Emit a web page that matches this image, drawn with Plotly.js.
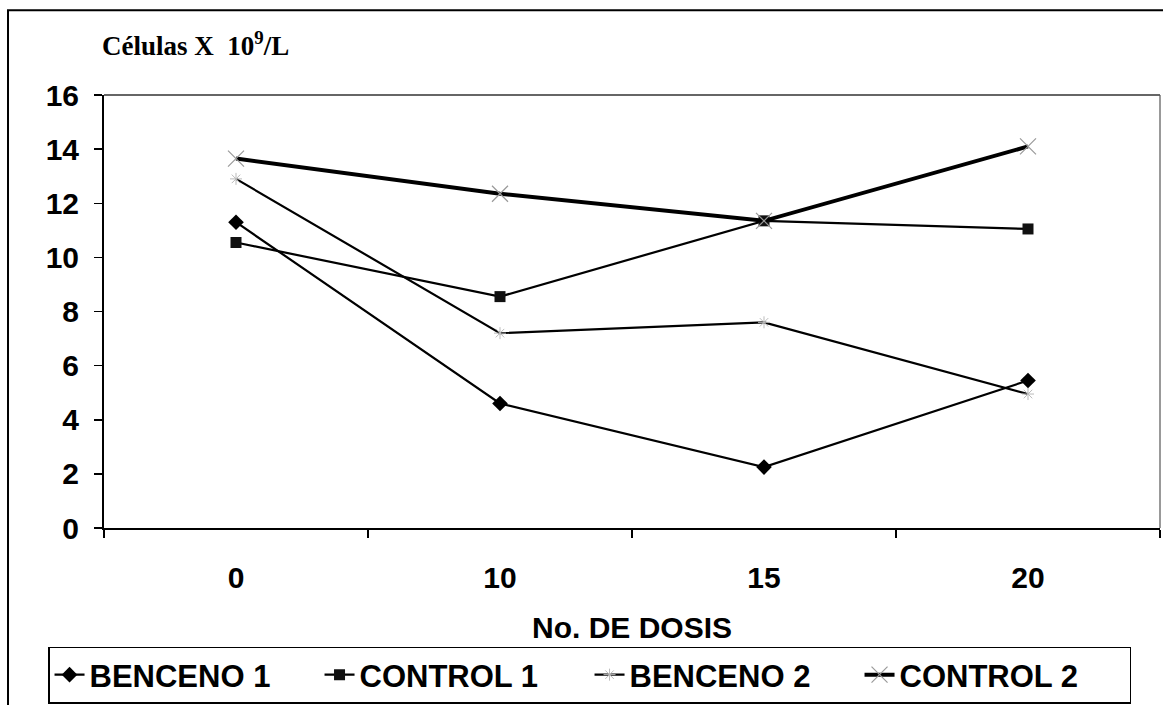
<!DOCTYPE html>
<html>
<head>
<meta charset="utf-8">
<script src="https://cdn.plot.ly/plotly-3.0.1.min.js"></script>
<style>html,body{margin:0;padding:0;background:#fff;}</style>
</head>
<body>
<div id="chart" style="width:1163px;height:705px;"></div>
<script>
const dosis = ["0", "10", "15", "20"];
const benceno1 = [11.3, 4.6, 2.25, 5.45];
const control1 = [10.55, 8.55, 11.35, 11.05];
const benceno2 = [12.9, 7.2, 7.6, 4.95];
const control2 = [13.65, 12.35, 11.35, 14.1];
const yTicks = [0, 2, 4, 6, 8, 10, 12, 14, 16];

const FONT = "Liberation Sans, Arial, sans-serif";

const traces = [
  {x: dosis, y: benceno1, name: "BENCENO 1", mode: "lines+markers", type: "scatter",
   line: {color: "#000", width: 2.2}, marker: {symbol: "diamond", size: 12, color: "#000"}},
  {x: dosis, y: control1, name: "CONTROL 1", mode: "lines+markers", type: "scatter",
   line: {color: "#000", width: 2.2}, marker: {symbol: "square", size: 11, color: "#111"}},
  {x: dosis, y: benceno2, name: "BENCENO 2", mode: "lines+markers", type: "scatter",
   line: {color: "#000", width: 2.2}, marker: {symbol: "asterisk-open", size: 10, color: "#bbb", line: {color: "#bbb", width: 1}}},
  {x: dosis, y: control2, name: "CONTROL 2", mode: "lines+markers", type: "scatter",
   line: {color: "#000", width: 4}, marker: {symbol: "x-thin-open", size: 16, color: "#999", line: {color: "#999", width: 1.2}}}
];

const layout = {
  width: 1163, height: 705,
  margin: {l: 104, r: 3, t: 95, b: 177, autoexpand: false},
  paper_bgcolor: "#fff", plot_bgcolor: "#fff",
  showlegend: true,
  font: {family: FONT, color: "#000"},
  xaxis: {
    type: "category", range: [-0.5, 3.5], tickson: "boundaries", automargin: false,
    ticks: "outside", ticklen: 8, tickwidth: 1.5, tickcolor: "#000",
    showline: true, linecolor: "#000", linewidth: 2, showgrid: false, zeroline: false,
    tickfont: {family: FONT, size: 30, color: "#000", weight: "bold"},
    ticklabelstandoff: 22,
    title: {text: "<b>No. DE DOSIS</b>", font: {family: FONT, size: 30, color: "#000"}, standoff: 24}
  },
  yaxis: {
    range: [0, 16], tickvals: yTicks, ticktext: yTicks.map(String), automargin: false,
    ticks: "outside", ticklen: 8, tickwidth: 1.5, tickcolor: "#000",
    showline: true, linecolor: "#000", linewidth: 2, showgrid: false, zeroline: false,
    tickfont: {family: FONT, size: 30, color: "#000", weight: "bold"},
    ticklabelstandoff: 9
  },
  legend: {
    orientation: "h", x: -0.053, y: -0.3395, xanchor: "left", yanchor: "middle",
    bordercolor: "#000", borderwidth: 1.5, bgcolor: "#fff",
    font: {family: FONT, size: 31, color: "#000", weight: "bold"},
    entrywidth: 225, entrywidthmode: "pixels", tracegroupgap: 0, itemwidth: 30
  },
  annotations: [{
    xref: "paper", yref: "paper", x: 0.087, y: 1.118, xanchor: "center", yanchor: "middle",
    text: "<b>Células X  10<sup>9</sup>/L</b>", showarrow: false,
    font: {family: "Liberation Serif, Times New Roman, serif", size: 27, color: "#000"}
  }],
  shapes: [
    {type: "line", xref: "paper", yref: "paper", x0: 0, x1: 1, y0: 1, y1: 1, line: {color: "#333", width: 1.5}},
    {type: "line", xref: "paper", yref: "paper", x0: 1, x1: 1, y0: 0, y1: 1, line: {color: "#555", width: 1.2}},
    {type: "rect", xref: "paper", yref: "paper", x0: -0.0909, x1: 1.05, y0: -0.5, y1: 1.196, line: {color: "#000", width: 2}, layer: "below"}
  ]
};

Plotly.newPlot("chart", traces, layout, {displayModeBar: false, staticPlot: true});
</script>
</body>
</html>
